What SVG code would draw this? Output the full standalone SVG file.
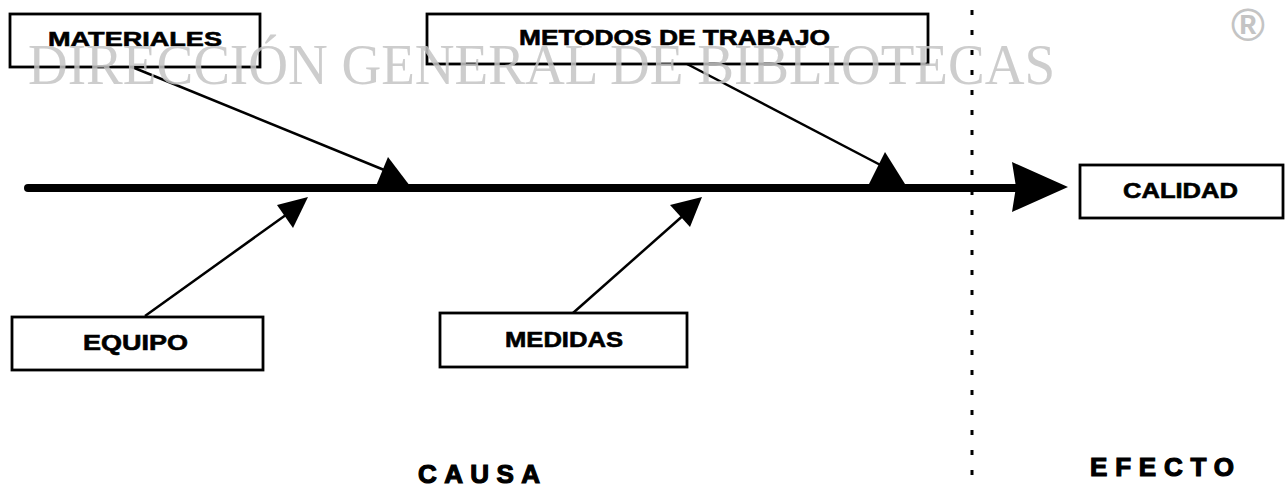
<svg xmlns="http://www.w3.org/2000/svg" width="1286" height="488" viewBox="0 0 1286 488">
<style>
.box{fill:#fff;stroke:#000;stroke-width:2.8}
.lbl{font-family:"Liberation Sans",Arial,sans-serif;font-weight:bold;fill:#000;stroke:#000;stroke-width:0.6}
.big{stroke-width:1.2}
.wm{font-family:"Liberation Serif","Times New Roman",serif;fill:#c4c4c4;fill-opacity:0.85}
.bone{stroke:#000;stroke-width:2.5;fill:none}
.head{fill:#000}
</style>
<rect width="1286" height="488" fill="#fff"/>
<line x1="972" y1="10" x2="972" y2="488" stroke="#000" stroke-width="3" stroke-dasharray="5 15"/>
<g id="connectors">
<line x1="28" y1="188" x2="1020" y2="188" stroke="#000" stroke-width="8" stroke-linecap="round"/>
<polygon class="head" points="1012,162 1068,187 1012,212 1016,187"/>
<line class="bone" x1="132" y1="67" x2="394" y2="174"/>
<polygon class="head" points="388,157 376,186 410,186"/>
<line class="bone" x1="687" y1="64" x2="890" y2="170"/>
<polygon class="head" points="885,152 869,184 905,184"/>
<line class="bone" x1="145" y1="316" x2="290" y2="212"/>
<polygon class="head" points="308,197 277,205 293,228"/>
<line class="bone" x1="573" y1="313" x2="686" y2="213"/>
<polygon class="head" points="702,197 670,205 690,227"/>
</g>
<g id="materiales">
<rect class="box" x="10" y="14" width="250" height="53"/>
<text class="lbl" x="48" y="46" font-size="21" textLength="174" lengthAdjust="spacingAndGlyphs">MATERIALES</text>
</g>
<g id="metodos">
<rect class="box" x="427" y="14" width="501" height="50"/>
<text class="lbl" x="519" y="45" font-size="22" textLength="311" lengthAdjust="spacingAndGlyphs">METODOS DE TRABAJO</text>
</g>
<g id="calidad">
<rect class="box" x="1080" y="165" width="203" height="53"/>
<text class="lbl" x="1123" y="198" font-size="22" textLength="115" lengthAdjust="spacingAndGlyphs">CALIDAD</text>
</g>
<g id="equipo">
<rect class="box" x="12" y="317" width="251" height="53"/>
<text class="lbl" x="83" y="350" font-size="22" textLength="105" lengthAdjust="spacingAndGlyphs">EQUIPO</text>
</g>
<g id="medidas">
<rect class="box" x="440" y="313" width="247" height="54"/>
<text class="lbl" x="505" y="347" font-size="22" textLength="118" lengthAdjust="spacingAndGlyphs">MEDIDAS</text>
</g>
<g id="causa">
<text class="lbl big" x="418" y="483" font-size="26" textLength="122" lengthAdjust="spacing">CAUSA</text>
</g>
<g id="efecto">
<text class="lbl big" x="1090" y="476" font-size="26" textLength="144" lengthAdjust="spacing">EFECTO</text>
</g>
<text class="wm" x="28" y="84" font-size="56" textLength="1027" lengthAdjust="spacingAndGlyphs">DIRECCIÓN GENERAL DE BIBLIOTECAS</text>
<text x="1248" y="41" font-size="46" text-anchor="middle" font-family="Liberation Sans, Arial, sans-serif" font-weight="bold" fill="#c4c4c4">®</text>
</svg>
